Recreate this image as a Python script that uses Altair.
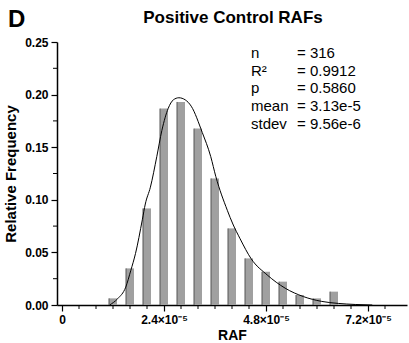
import altair as alt
import pandas as pd

# Histogram data (bin centers in units of 1e-5)
bin_centers = [1.2, 1.6, 2.0, 2.4, 2.8, 3.2, 3.6, 4.0, 4.4, 4.8, 5.2, 5.6, 6.0, 6.4]
rel_freq = [0.0063, 0.0348, 0.0918, 0.1867, 0.1930, 0.1677, 0.1203, 0.0728,
            0.0443, 0.0316, 0.0222, 0.0095, 0.0063, 0.0127]

# Fitted curve
curve_x = [1.12, 1.31, 1.50, 1.62, 1.73, 1.89, 1.96, 2.08, 2.23, 2.35, 2.50, 2.62,
           2.75, 2.90, 3.04, 3.30, 3.50, 3.62, 3.89, 4.02, 4.19, 4.45, 4.83, 5.25,
           5.68, 6.10, 6.50, 6.90, 7.30]
curve_y = [0.0, 0.006, 0.017, 0.033, 0.049, 0.081, 0.096, 0.112, 0.141, 0.166, 0.187, 0.195,
           0.197, 0.195, 0.189, 0.164, 0.141, 0.122, 0.090, 0.077, 0.063, 0.044, 0.0285, 0.016,
           0.008, 0.0035, 0.0015, 0.0005, 0.0]

x_major = [0, 2.4, 4.8, 7.2]
x_minor = [0.4, 0.8, 1.2, 1.6, 2.0, 2.8, 3.2, 3.6, 4.0, 4.4, 5.2, 5.6, 6.0, 6.4, 6.8, 7.6]
y_major = [0.0, 0.05, 0.10, 0.15, 0.20, 0.25]
y_minor = [0.025, 0.075, 0.125, 0.175, 0.225]

stat_names = ["n", "R²", "p", "mean", "stdev"]
stat_values = ["= 316", "= 0.9912", "= 0.5860", "= 3.13e-5", "= 9.56e-6"]
title_text = "Positive Control RAFs"
panel_letter = "D"

FONT = "Liberation Sans"
W, H = 350, 263

bars_df = pd.DataFrame({"x": bin_centers, "y": rel_freq})
curve_df = pd.DataFrame({"x": curve_x, "y": curve_y})
xminor_df = pd.DataFrame({"x": x_minor})
yminor_df = pd.DataFrame({"y": y_minor})

xscale = alt.Scale(domain=[0, 8], nice=False, zero=True)
yscale = alt.Scale(domain=[0, 0.25], nice=False)

x_axis = alt.Axis(values=x_major, title="RAF", titleFontSize=14,
                  labelExpr="datum.value == 0 ? '0' : format(datum.value, '.1f') + '×10⁻⁵'")
y_axis = alt.Axis(values=y_major, title="Relative Frequency", format=".2f")

X = alt.X("x:Q", scale=xscale, axis=x_axis)
Y = alt.Y("y:Q", scale=yscale, axis=y_axis)

bars = alt.Chart(bars_df).mark_bar(size=8, color="#a0a0a0").encode(x=X, y=Y)

bar_edges = alt.Chart(bars_df).mark_rule(color="#555555", strokeWidth=1, xOffset=-4).encode(
    x=X, y=Y, y2=alt.datum(0),
)

curve = alt.Chart(curve_df).mark_line(color="black", strokeWidth=1, interpolate="monotone").encode(
    x=X, y=Y,
)

xminor = alt.Chart(xminor_df).mark_rule(color="black", strokeWidth=1).encode(
    x=X, y=alt.value(H), y2=alt.value(H + 4),
)

yminor = alt.Chart(yminor_df).mark_rule(color="black", strokeWidth=1).encode(
    y=Y, x=alt.value(0), x2=alt.value(-4),
)

stats_left = alt.Chart(pd.DataFrame({"t": ["\n".join(stat_names)]})).mark_text(
    align="left", baseline="alphabetic", font=FONT, fontSize=15, lineBreak="\n",
    lineHeight=17.7, color="black"
).encode(text="t:N", x=alt.value(194), y=alt.value(16))

stats_right = alt.Chart(pd.DataFrame({"t": ["\n".join(stat_values)]})).mark_text(
    align="left", baseline="alphabetic", font=FONT, fontSize=15, lineBreak="\n",
    lineHeight=17.7, color="black"
).encode(text="t:N", x=alt.value(240), y=alt.value(16))

panel = alt.Chart(pd.DataFrame({"t": [panel_letter]})).mark_text(
    align="left", baseline="alphabetic", font=FONT, fontSize=24, fontWeight="bold", color="black"
).encode(text="t:N", x=alt.value(-49), y=alt.value(-15))

title = alt.Chart(pd.DataFrame({"t": [title_text]})).mark_text(
    align="center", baseline="alphabetic", font=FONT, fontSize=17, fontWeight="bold", color="black"
).encode(text="t:N", x=alt.value(W / 2 + 1), y=alt.value(-19))

chart = alt.layer(bars, bar_edges, curve, xminor, yminor, stats_left, stats_right, panel, title).properties(
    width=W, height=H,
    autosize="none",
    padding={"left": 57, "top": 42, "right": 2, "bottom": 38},
).configure_view(stroke=None).configure_axis(
    grid=False, domainColor="black", domainWidth=1.5, tickColor="black", tickSize=6,
    tickWidth=1.2, labelFont=FONT, labelFontWeight="bold", labelFontSize=12, labelColor="black",
    titleFont=FONT, titleFontWeight="bold", titleFontSize=15, titleColor="black",
).configure_axisX(labelPadding=3, titlePadding=3).configure_axisY(labelPadding=3, titlePadding=6)

chart.save("out.html", embed_options={"renderer": "svg", "actions": False})
